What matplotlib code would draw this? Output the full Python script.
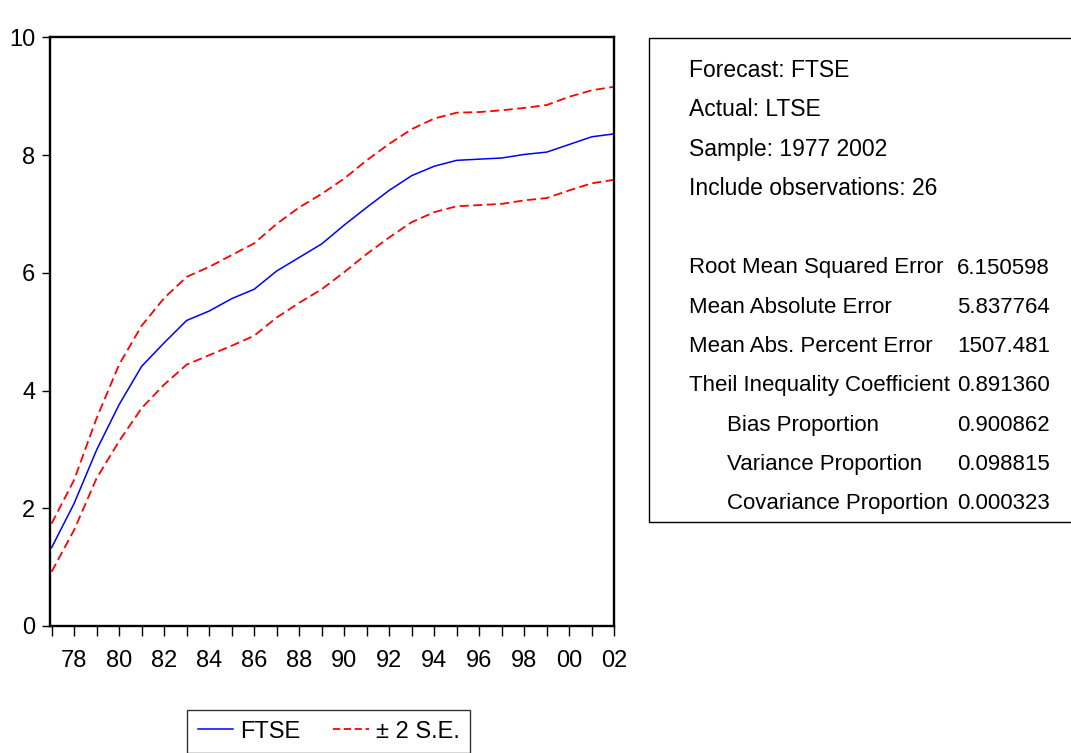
import matplotlib
matplotlib.use("Agg")
import matplotlib.pyplot as plt
from matplotlib import font_manager
from matplotlib.patches import Rectangle

# forecast path and +/- 2 S.E. bands
years = list(range(1977, 2003))
ftse = [1.33, 2.08, 2.99, 3.76, 4.41, 4.81, 5.19, 5.35, 5.56, 5.72, 6.03, 6.26, 6.49,
        6.81, 7.11, 7.40, 7.65, 7.81, 7.91, 7.93, 7.95, 8.01, 8.05, 8.18, 8.31, 8.36]
upper = [1.74, 2.48, 3.53, 4.44, 5.10, 5.57, 5.93, 6.10, 6.30, 6.50, 6.83, 7.11, 7.34,
         7.60, 7.91, 8.19, 8.44, 8.62, 8.72, 8.73, 8.76, 8.80, 8.85, 8.99, 9.10, 9.16]
lower = [0.92, 1.63, 2.51, 3.14, 3.70, 4.10, 4.44, 4.60, 4.76, 4.93, 5.24, 5.49, 5.72,
         6.01, 6.32, 6.60, 6.86, 7.03, 7.13, 7.15, 7.17, 7.23, 7.27, 7.40, 7.52, 7.58]
yticks = [0, 2, 4, 6, 8, 10]

header_lines = ["Forecast: FTSE", "Actual: LTSE", "Sample: 1977 2002",
                "Include observations: 26"]
stat_labels = ["Root Mean Squared Error", "Mean Absolute Error",
               "Mean Abs. Percent Error", "Theil Inequality Coefficient",
               "Bias Proportion", "Variance Proportion", "Covariance Proportion"]
stat_values = ["6.150598", "5.837764", "1507.481", "0.891360",
               "0.900862", "0.098815", "0.000323"]
stat_indent = [False, False, False, False, True, True, True]

# fonts: EViews uses a tall, squeezed Arial for the axis labels
names = {f.name for f in font_manager.fontManager.ttflist}
if "Liberation Sans Narrow" in names:
    tick_font, tick_size = "Liberation Sans Narrow", 20
else:
    tick_font, tick_size = "Liberation Sans", 17
box_font = "Liberation Sans"

W, H = 1071, 753
fig = plt.figure(figsize=(W / 100, H / 100), dpi=100)


def fx(px):
    return px / W


def fy(py):
    return 1 - py / H


ax = fig.add_axes([fx(50), fy(626), fx(614.3) - fx(50), fy(37.3) - fy(626)])
ax.plot(years, ftse, color="#0000ff", lw=1.1)
ax.plot(years, upper, color="#ff0000", lw=1.3, linestyle=(0, (5, 2.5)))
ax.plot(years, lower, color="#ff0000", lw=1.3, linestyle=(0, (5, 2.5)))

ax.set_xlim(1976.93, 2002.0)
ax.set_ylim(0, 10)
ax.set_xticks(years)
ax.set_xticklabels(["%02d" % (y % 100) if y % 2 == 0 else "" for y in years])
ax.set_yticks(yticks)
ax.set_yticklabels([str(v) for v in yticks])
ax.tick_params(axis="x", direction="out", length=7.5, width=1, pad=10)
ax.tick_params(axis="y", direction="out", length=5.5, width=1, pad=5)
for lab in ax.get_xticklabels() + ax.get_yticklabels():
    lab.set_fontfamily(tick_font)
    lab.set_fontsize(tick_size)
for sp in ax.spines.values():
    sp.set_linewidth(1.7)
    sp.set_color("black")

leg = ax.legend(["FTSE", "\u00b1 2 S.E."], loc="upper left",
                bbox_to_anchor=(fx(187), fy(710)), bbox_transform=fig.transFigure,
                borderaxespad=0, ncol=2, frameon=True, fancybox=False,
                handlelength=1.5, columnspacing=1.4, handletextpad=0.3,
                borderpad=0.45, prop={"family": tick_font, "size": tick_size})
leg.get_frame().set_edgecolor("black")
leg.get_frame().set_linewidth(1.0)
leg.get_lines()[1].set_linestyle((0, (4, 2)))

# forecast evaluation box on the right
fig.patches.append(Rectangle((fx(649), fy(522)), fx(1080) - fx(649), fy(38.3) - fy(522),
                             transform=fig.transFigure, fill=False,
                             edgecolor="black", lw=1.0))

line_gap = 39.3
y0 = 69
for i, s in enumerate(header_lines):
    fig.text(fx(689), fy(y0 + i * line_gap + 8), s, family=box_font,
             fontsize=16.5, va="baseline", ha="left")
for i, (lab, val, ind) in enumerate(zip(stat_labels, stat_values, stat_indent)):
    yy = fy(y0 + (i + 5) * line_gap + 8)
    fig.text(fx(727 if ind else 689), yy, lab, family=box_font,
             fontsize=16, va="baseline", ha="left")
    fig.text(fx(1050), yy, val, family=box_font,
             fontsize=16, va="baseline", ha="right")

fig.savefig("out.png", dpi=100)
